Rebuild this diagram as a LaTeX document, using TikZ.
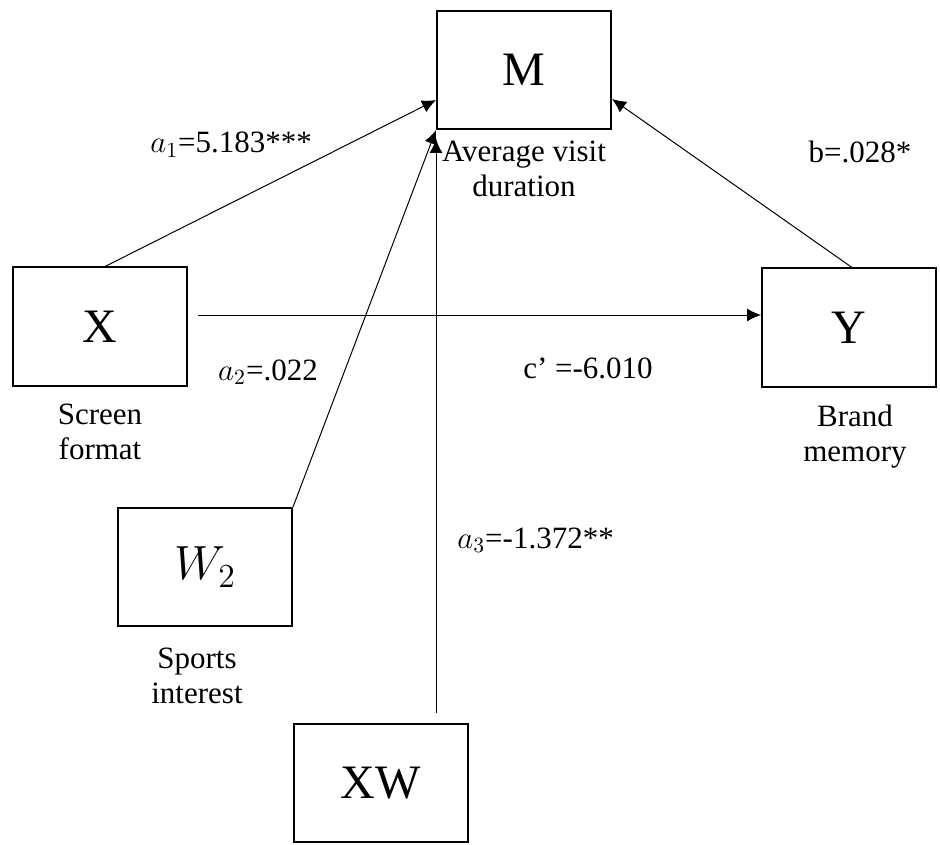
\documentclass[tikz,border=0pt]{standalone}
\usepackage{fix-cm}
\usepackage{fontspec}
\setmainfont{Liberation Serif}
\usepackage{tikz}
\usetikzlibrary{arrows.meta}

\tikzset{
  varbox/.style={draw, line width=1pt, minimum width=87pt, minimum height=59pt,
    inner sep=0pt, font=\fontsize{24}{28}\selectfont},
  varname/.style={align=center, inner sep=0pt, font=\fontsize{15.5}{17.5}\selectfont},
  coef/.style={inner sep=0pt, font=\fontsize{15.5}{17.5}\selectfont},
  effect/.style={line width=0.5pt, -{Latex[length=7pt,width=6.5pt]}}
}

\begin{document}
\begin{tikzpicture}[x=0.5pt, y=-0.5pt]
    \useasboundingbox (0,0) rectangle (940,844);
    % Boxes
    \node[varbox] (M) at (524,70) {M};
    \node[varbox] (X) at (99.5,326.5) {X};
    \node[varbox] (Y) at (849,327.5) {Y};
    \node[varbox] (W) at (205,567) {$W_2$};
    \node[varbox] (XW) at (380.5,783) {XW};
    % Names under the boxes
    \node[varname] (Mname) at (524,169) {Average visit\\duration};
    \node[varname] (Xname) at (100,432) {Screen\\format};
    \node[varname] (Yname) at (855,437) {Brand\\memory};
    \node[varname] (Wname) at (197,676) {Sports\\interest};
    % Paths
    \draw[effect] ([xshift=2.75pt]X.north) -- ([yshift=-15pt]M.west);
    \draw[effect] (W.north east) -- (M.south west);
    \draw[effect] ([xshift=27.75pt,yshift=5pt]XW.north) -- ([yshift=-4.5pt]M.south west);
    \draw[effect] ([xshift=5pt,yshift=5.75pt]X.east) -- ([yshift=6.25pt]Y.west);
    \draw[effect] ([xshift=1.5pt]Y.north) -- ([yshift=-14.5pt]M.east);
    % Coefficients
    \node[coef, anchor=base west] (a1) at (150,153) {$a_1$=5.183***};
    \node[coef, anchor=base] (a2) at (268,380) {$a_2$=.022};
    \node[coef, anchor=base west] (a3) at (457,548) {$a_3$=-1.372**};
    \node[coef, anchor=base] (b) at (860,163) {b=.028*};
    \node[coef, anchor=base] (c) at (588,378) {c’ =-6.010};
\end{tikzpicture}
\end{document}
